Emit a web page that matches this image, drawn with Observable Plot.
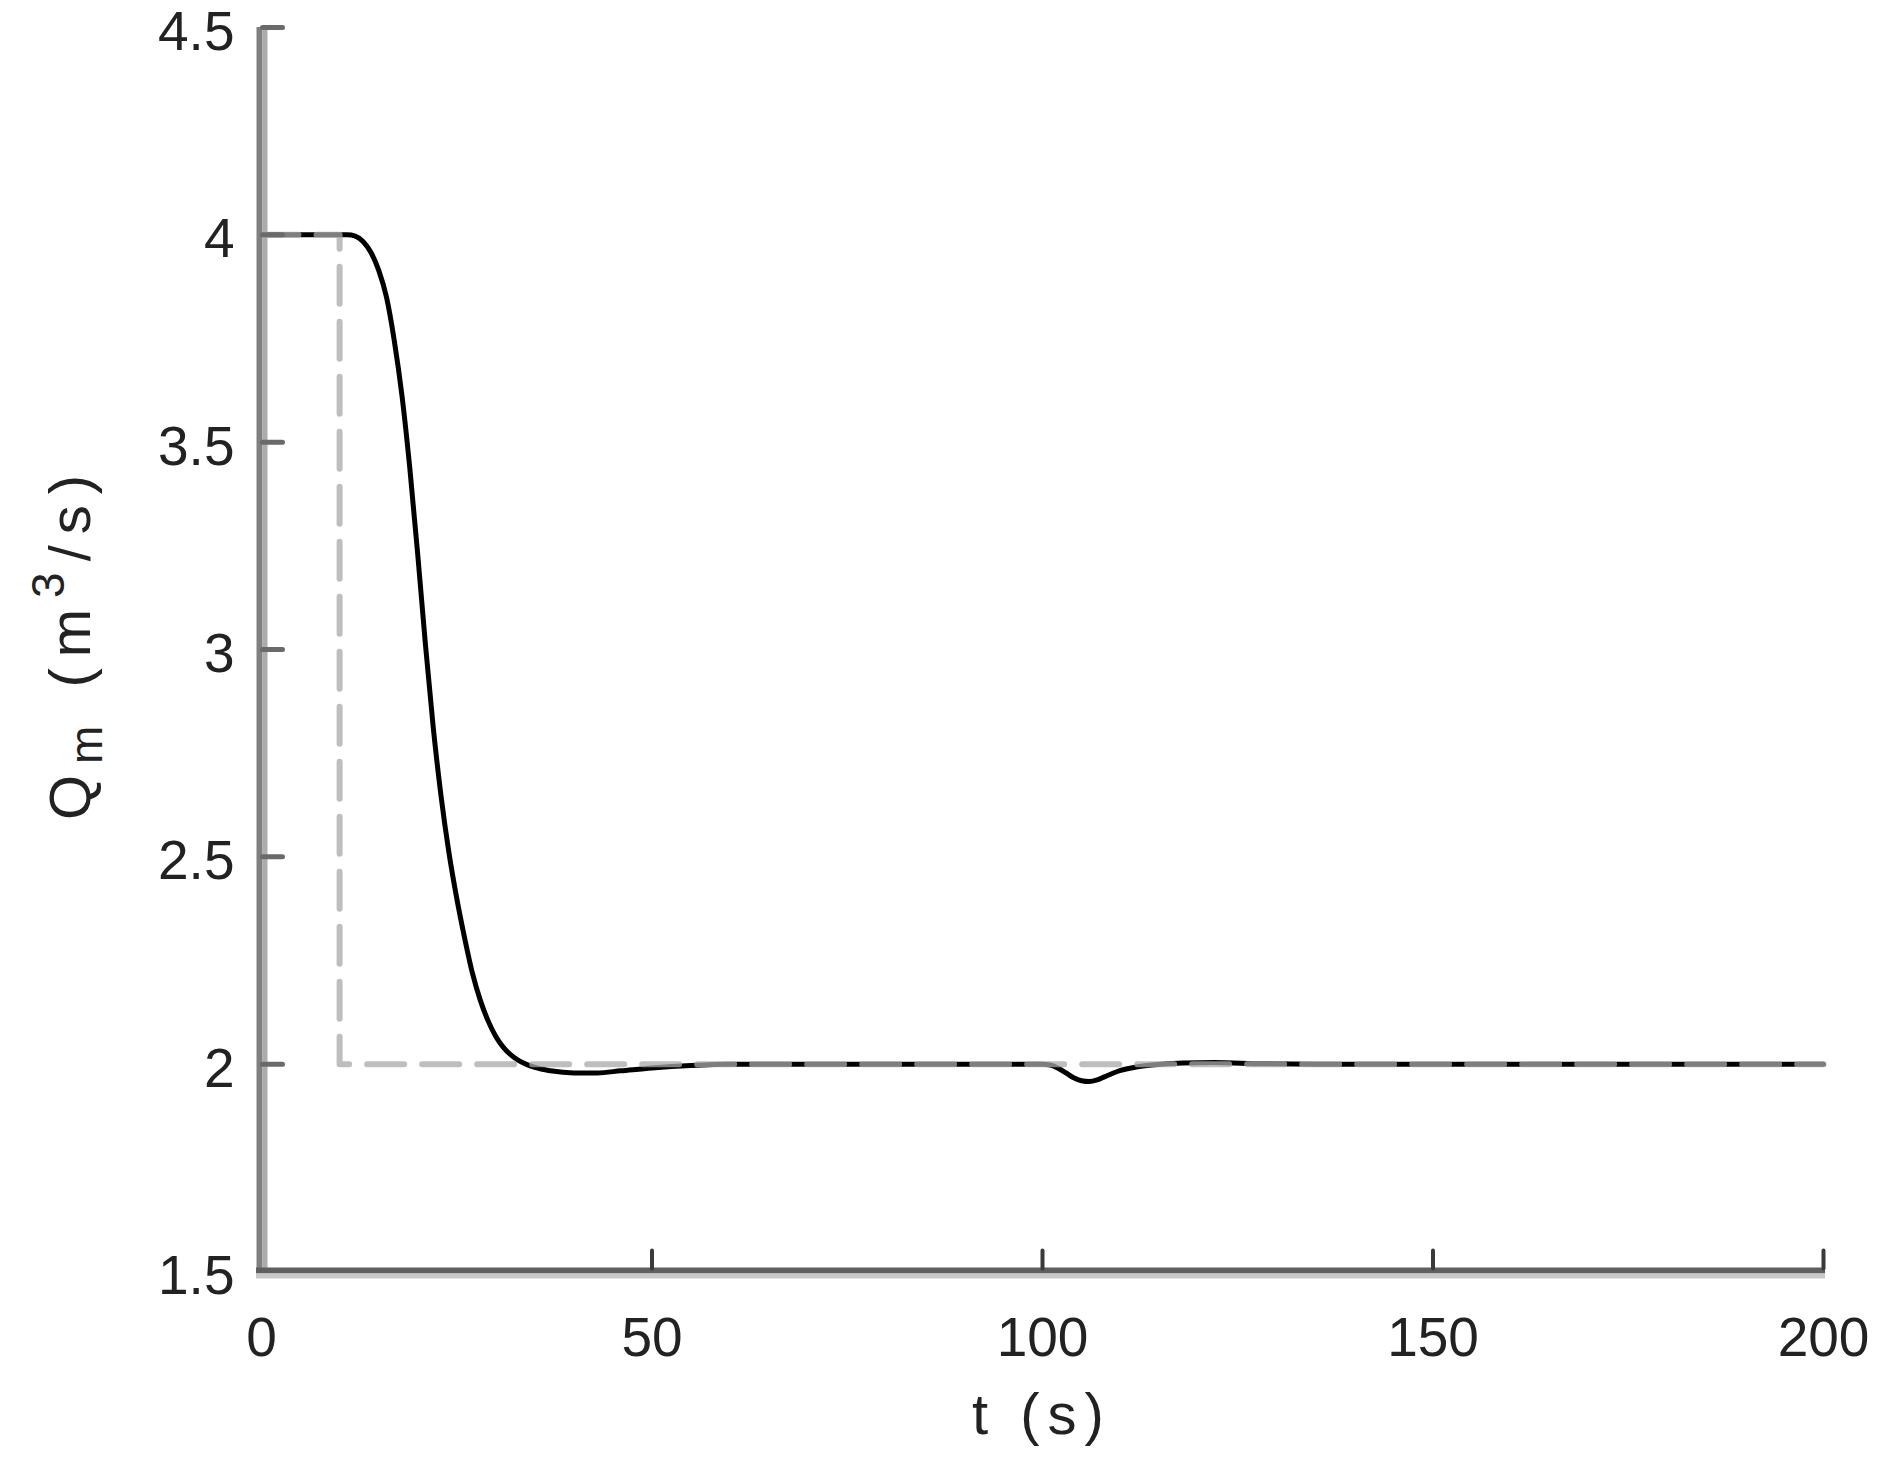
<!DOCTYPE html>
<html><head><meta charset="utf-8">
<script src="https://cdn.jsdelivr.net/npm/d3@7"></script>
<script src="https://cdn.jsdelivr.net/npm/@observablehq/plot@0.6"></script>
<style>html,body{margin:0;padding:0;background:#fff;} #chart{width:1882px;height:1461px;}</style>
</head><body><div id="chart"></div>
<script>
// Simulated flow Q_m (m^3/s) vs time t (s)
const timeS  = [0, 11, 12, 13, 14, 15, 16, 17, 18, 19, 20, 21, 22, 23, 24, 25, 26, 27, 28, 29, 30, 31, 32, 33, 34, 35, 37, 40, 43, 46, 50, 55, 60, 100, 101, 102, 103, 104, 105, 106, 107, 108, 109, 110, 112, 114, 118, 122, 128, 135, 200];
const flowQm = [4, 4, 3.997, 3.984, 3.958, 3.915, 3.85, 3.745, 3.61, 3.435, 3.23, 3.01, 2.81, 2.645, 2.51, 2.40, 2.305, 2.22, 2.155, 2.105, 2.067, 2.04, 2.021, 2.008, 1.999, 1.992, 1.984, 1.979, 1.979, 1.984, 1.991, 1.997, 2.0, 2.0, 1.998, 1.99, 1.979, 1.967, 1.96, 1.958, 1.962, 1.97, 1.978, 1.985, 1.993, 1.998, 2.003, 2.004, 2.001, 2.0, 2.0];
// Reference (set-point) step, dashed
const refTime = [0, 10, 10, 200];
const refFlow = [4, 4, 2, 2];

const xTicks = [0, 50, 100, 150, 200];
const xTickLabels = ["0", "50", "100", "150", "200"];
const yTicks = [1.5, 2, 2.5, 3, 3.5, 4, 4.5];
const yTickLabels = ["1.5", "2", "2.5", "3", "3.5", "4", "4.5"];
const xLabel = "t (s)";
const yLabelParts = [["Q", "base"], ["m", "sub"], [" (m", "base"], ["3", "sup"], ["/s)", "base"]];

const curve = timeS.map((t, i) => ({t, q: flowQm[i]}));
const ref = refTime.map((t, i) => ({t, q: refFlow[i]}));
const tickShape = {draw(ctx, l) { ctx.moveTo(0, 0); ctx.lineTo(0, -l); }};
const FONT = "Liberation Sans, Arial, sans-serif";

const chart = Plot.plot({
  width: 1882, height: 1461,
  marginLeft: 261, marginRight: 59, marginTop: 27, marginBottom: 190,
  style: {fontFamily: FONT, color: "#222", background: "#fff"},
  x: {domain: [0, 200]},
  y: {domain: [1.5, 4.5]},
  marks: [
    Plot.line(curve, {x: "t", y: "q", stroke: "#000", strokeWidth: 5, curve: "monotone-x"}),
    Plot.line(ref, {x: "t", y: "q", stroke: "#a8a8a8", strokeOpacity: 0.75, strokeWidth: 6, strokeDasharray: "37,18"}),
    Plot.ruleX([0], {stroke: "#808080", strokeWidth: 6, dx: -2}),
    Plot.ruleX([0], {stroke: "#acacac", strokeWidth: 5, dx: 3.5}),
    Plot.ruleY([1.5], {stroke: "#5f5f5f", strokeWidth: 6, dy: -1, insetLeft: -5, insetRight: -2}),
    Plot.ruleY([1.5], {stroke: "#c8c8c8", strokeWidth: 5, dy: 4.5, insetLeft: -5, insetRight: -2}),
    Plot.vector(xTicks.slice(1), {x: d => d, y: 1.5, length: 18, rotate: 0, anchor: "start", shape: tickShape, stroke: "#3a3a3a", strokeWidth: 4, dy: -3}),
    Plot.vector(yTicks.slice(1), {x: 0, y: d => d, length: 20, rotate: 90, anchor: "start", shape: tickShape, stroke: "#6a6a6a", strokeWidth: 5, dx: 1}),
    Plot.axisX({ticks: xTicks, tickFormat: d => xTickLabels[xTicks.indexOf(d)], tickSize: 0, tickPadding: 45, fontSize: 55, label: null, fill: "#222"}),
    Plot.axisY({ticks: yTicks, tickFormat: d => yTickLabels[yTicks.indexOf(d)], tickSize: 0, tickPadding: 27, fontSize: 55, label: null, dy: 5, fill: "#222"})
  ]
});
document.getElementById("chart").appendChild(chart);

const svg = d3.select(chart);
svg.append("text")
  .attr("x", 1042).attr("y", 1434)
  .attr("text-anchor", "middle")
  .attr("font-family", FONT).attr("font-size", 58).attr("fill", "#222")
  .attr("letter-spacing", "8px")
  .text(xLabel);

const yl = svg.append("text")
  .attr("transform", "translate(90,642) rotate(-90)")
  .attr("text-anchor", "middle")
  .attr("font-family", FONT).attr("font-size", 58).attr("fill", "#222")
  .attr("letter-spacing", "11px");
let shift = 0;
for (const [txt, kind] of yLabelParts) {
  const target = kind === "sub" ? 12 : kind === "sup" ? -26 : 0;
  const ts = yl.append("tspan").attr("dy", target - shift).text(txt);
  if (kind !== "base") ts.attr("font-size", 46);
  shift = target;
}
</script>
</body></html>
